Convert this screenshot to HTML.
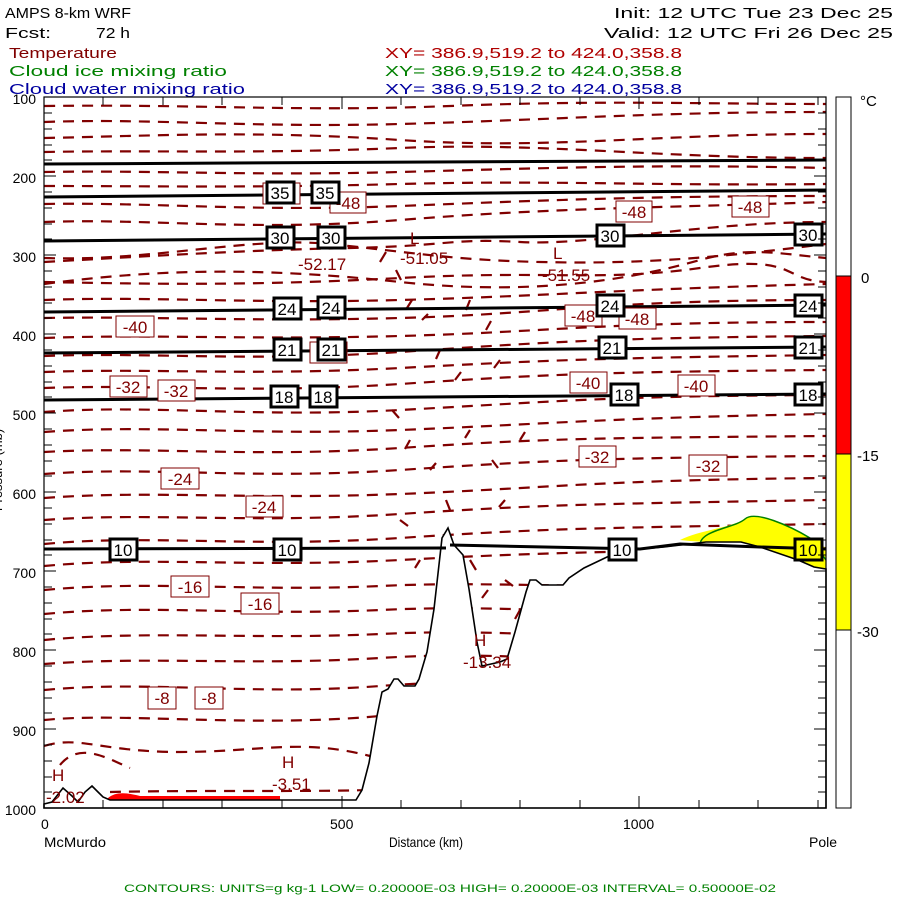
<!DOCTYPE html>
<html><head><meta charset="utf-8"><style>
html,body{margin:0;padding:0;background:#fff}
svg{display:block}
text{font-family:"Liberation Sans",sans-serif}
</style></head><body>
<svg width="900" height="900" viewBox="0 0 900 900" xmlns="http://www.w3.org/2000/svg">
<rect width="900" height="900" fill="#fff"/>
<!-- header -->
<g font-size="15">
<text x="5" y="18" textLength="126" lengthAdjust="spacingAndGlyphs">AMPS 8-km WRF</text>
<text x="5" y="38" textLength="46" lengthAdjust="spacingAndGlyphs">Fcst:</text>
<text x="96" y="38" textLength="34" lengthAdjust="spacingAndGlyphs">72 h</text>
<text x="614" y="18" textLength="279" lengthAdjust="spacingAndGlyphs">Init: 12 UTC Tue 23 Dec 25</text>
<text x="604" y="38" textLength="289" lengthAdjust="spacingAndGlyphs">Valid: 12 UTC Fri 26 Dec 25</text>
<text x="9" y="58" fill="#800000" textLength="108" lengthAdjust="spacingAndGlyphs">Temperature</text>
<text x="9" y="76" fill="#008000" textLength="218" lengthAdjust="spacingAndGlyphs">Cloud ice mixing ratio</text>
<text x="9" y="94" fill="#0000a0" textLength="236" lengthAdjust="spacingAndGlyphs">Cloud water mixing ratio</text>
<text x="385" y="58" fill="#b00000" textLength="297" lengthAdjust="spacingAndGlyphs">XY= 386.9,519.2 to 424.0,358.8</text>
<text x="385" y="76" fill="#008000" textLength="297" lengthAdjust="spacingAndGlyphs">XY= 386.9,519.2 to 424.0,358.8</text>
<text x="385" y="94" fill="#0000a0" textLength="297" lengthAdjust="spacingAndGlyphs">XY= 386.9,519.2 to 424.0,358.8</text>
</g>
<!-- dashed temperature contours -->
<g fill="none" stroke="#800000" stroke-width="2.2" stroke-dasharray="11,8">
<path d="M44,106 C200,104 300,112 450,106 S700,104 826,104"/>
<path d="M44,122 C150,118 250,128 400,124 S650,112 826,112"/>
<path d="M44,138 C150,136 250,130 400,140 S650,134 826,134"/>
<path d="M44,152 C150,150 260,154 400,148 S650,158 826,158"/>
<path d="M44,172 C150,170 250,176 400,172 S650,164 826,168"/>
<path d="M44,186 C150,186 250,188 400,184 S650,186 826,184"/>
<path d="M44,204 C150,202 250,212 400,206 S650,196 826,196"/>
<path d="M44,222 C150,218 250,232 400,220 S650,208 826,202"/>
<path d="M44,262 C150,256 250,250 350,248 S450,238 520,242 S700,222 826,222"/>
<path d="M44,258 C150,262 250,236 330,244 S450,260 540,262 S700,260 826,244"/>
<path d="M44,284 C150,270 250,266 400,282 S650,274 700,260 S780,254 826,258"/>
<path d="M44,282 C150,284 250,286 400,278 S600,282 700,268 S780,280 826,282"/>
<path d="M44,300 C150,296 250,304 400,300 S600,290 826,284"/>
<path d="M44,318 C150,316 250,322 400,318 S600,300 826,300"/>
<path d="M44,338 C150,334 250,340 400,336 S600,322 826,322"/>
<path d="M44,356 C150,352 250,362 400,352 S600,338 826,336"/>
<path d="M44,372 C150,368 250,376 400,368 S600,358 826,355"/>
<path d="M44,388 C150,384 250,394 400,384 S600,372 826,370"/>
<path d="M44,412 C150,404 250,418 400,410 S600,396 826,395"/>
<path d="M44,432 C150,424 250,436 400,430 S600,418 826,414"/>
<path d="M44,452 C150,446 250,458 400,448 S600,438 826,436"/>
<path d="M44,474 C150,466 250,480 400,470 S600,458 826,456"/>
<path d="M44,498 C150,490 250,500 400,494 S600,480 826,478"/>
<path d="M44,520 C150,512 250,524 400,514 S600,504 826,500"/>
<path d="M44,544 C150,534 250,548 400,538 S600,528 826,524"/>
<path d="M44,566 C150,556 250,568 400,560 S600,552 826,548"/>
<path d="M44,590 C150,580 250,592 380,586 S560,592 826,580"/>
<path d="M44,614 C150,604 250,616 380,610 S560,616 826,610"/>
<path d="M44,640 C150,630 250,640 380,634 S560,640 826,640"/>
<path d="M44,664 C150,656 250,666 380,658 S560,664 826,664"/>
<path d="M44,690 C150,680 250,696 380,686 S560,690 826,690"/>
<path d="M44,720 C120,712 250,728 380,716 S560,720 826,720"/>
<path d="M44,746 C80,735 100,752 180,752 S300,738 370,756"/>
<path d="M60,765 C80,740 110,760 130,768"/>
<path d="M110,792 C200,790 300,792 370,790"/>
</g>
<!-- short squiggles above mountains -->
<g fill="none" stroke="#800000" stroke-width="2.2">
<path d="M380,262 l6,-10 M396,270 l5,10 M412,300 l-5,8 M422,320 l6,-6 M440,350 l-4,9 M455,380 l6,-8 M470,300 l-4,10 M486,330 l5,-9 M500,360 l-6,8"/>
<path d="M392,410 l7,8 M410,440 l-5,9 M430,470 l6,-7 M446,500 l4,10 M470,430 l-5,8 M492,460 l6,8 M505,500 l-6,7 M520,440 l5,-8"/>
<path d="M400,520 l8,6 M420,560 l-5,8 M436,600 l6,-6 M470,560 l6,10 M488,590 l-6,8 M505,580 l8,6 M520,610 l-5,9"/>
</g>
<!-- yellow ice area -->
<path d="M680,540 C700,530 730,528 745,519 S790,526 810,538 L826,548 L826,569 L814,567 L798,560 L760,547 L741,542 L706,542 L690,541 Z" fill="#ffff00"/>
<path d="M700,545 C700,530 735,528 745,519 S790,526 810,538 L826,560" fill="none" stroke="#008000" stroke-width="1.5"/>
<!-- red cloud water -->
<path d="M108,798 C115,792 125,792 140,796 L280,796 L280,800 L108,800 Z" fill="#ff0000"/>
<!-- terrain -->
<path d="M44,804 L52,802 L63,788 L72,796 L78,802 L85,792 L92,786 L98,792 L103,797 L110,800 L356,800 L362,790 L369,763 L377,716 L382,692 L388,689 L394,679 L398,679 L404,686 L415,686 L419,679 L427,652 L434,609 L442,538 L448,528 L454,545 L463,555 L469,589 L477,642 L482,666 L500,662 L507,659 L515,632 L526,592 L530,580 L536,580 L542,585 L563,585 L569,578 L584,568 L607,557 L630,550 L664,547 L706,542 L741,542 L760,547 L798,560 L814,567 L826,569 L826,808 L44,808 Z" fill="#fff" stroke="#000" stroke-width="1.6"/>
<!-- height contours -->
<g fill="none" stroke="#000" stroke-width="3">
<path d="M44,164 L826,160"/>
<path d="M44,197 L826,190"/>
<path d="M44,241 L826,234"/>
<path d="M44,312 L826,305"/>
<path d="M44,353 L826,347"/>
<path d="M44,400 L826,394"/>
<path d="M44,549 L446,548 M450,545 L640,549 L680,544 L760,547 L826,549"/>
</g>
<!-- red label boxes -->
<g font-size="17" fill="#800000" text-anchor="middle">
<g stroke="#800000" stroke-width="1" fill="#fff">
<rect x="263" y="183" width="37" height="21"/><rect x="330" y="192" width="36" height="21"/>
<rect x="616" y="201" width="36" height="21"/><rect x="732" y="196" width="37" height="21"/>
<rect x="116" y="316" width="38" height="21"/><rect x="565" y="305" width="37" height="21"/><rect x="619" y="308" width="37" height="21"/>
<rect x="310" y="342" width="37" height="21"/>
<rect x="570" y="372" width="37" height="21"/><rect x="678" y="375" width="37" height="21"/>
<rect x="110" y="376" width="37" height="21"/><rect x="158" y="380" width="37" height="21"/>
<rect x="579" y="446" width="37" height="21"/><rect x="689" y="455" width="38" height="21"/>
<rect x="161" y="468" width="38" height="21"/><rect x="246" y="496" width="37" height="21"/>
<rect x="171" y="576" width="38" height="21"/><rect x="241" y="593" width="38" height="21"/>
<rect x="148" y="687" width="28" height="22"/><rect x="195" y="687" width="28" height="22"/>
</g>
<text x="281" y="200">-48</text><text x="348" y="209">-48</text>
<text x="634" y="218">-48</text><text x="750" y="213">-48</text>
<text x="135" y="333">-40</text><text x="583" y="322">-48</text><text x="637" y="325">-48</text>
<text x="328" y="359">-21</text>
<text x="588" y="389">-40</text><text x="696" y="392">-40</text>
<text x="128" y="393">-32</text><text x="176" y="397">-32</text>
<text x="597" y="463">-32</text><text x="708" y="472">-32</text>
<text x="180" y="485">-24</text><text x="264" y="513">-24</text>
<text x="190" y="593">-16</text><text x="260" y="610">-16</text>
<text x="162" y="704">-8</text><text x="209" y="704">-8</text>
</g>
<!-- extrema labels -->
<g font-size="17" fill="#800000">
<text x="298" y="270">-52.17</text>
<text x="410" y="244">L</text><text x="400" y="264">-51.05</text>
<text x="553" y="259">L</text><text x="542" y="281">-51.55</text>
<text x="474" y="646">H</text><text x="463" y="668">-13.34</text>
<text x="282" y="768">H</text><text x="272" y="790">-3.51</text>
<text x="52" y="781">H</text><text x="46" y="803">-2.02</text>
</g>
<!-- black number boxes -->
<g font-size="17" text-anchor="middle">
<g fill="#fff" stroke="#000" stroke-width="3">
<rect x="267" y="182" width="27" height="21"/><rect x="312" y="182" width="27" height="21"/>
<rect x="267" y="227" width="27" height="21"/><rect x="318" y="227" width="27" height="21"/><rect x="597" y="225" width="27" height="21"/><rect x="795" y="224" width="27" height="21"/>
<rect x="274" y="298" width="27" height="21"/><rect x="318" y="297" width="27" height="21"/><rect x="597" y="295" width="27" height="21"/><rect x="795" y="295" width="27" height="21"/>
<rect x="274" y="339" width="27" height="21"/><rect x="318" y="339" width="27" height="21"/><rect x="599" y="337" width="27" height="21"/><rect x="795" y="337" width="27" height="21"/>
<rect x="271" y="386" width="27" height="21"/><rect x="310" y="386" width="27" height="21"/><rect x="611" y="384" width="27" height="21"/><rect x="795" y="384" width="27" height="21"/>
<rect x="110" y="539" width="27" height="21"/><rect x="274" y="539" width="27" height="21"/><rect x="609" y="539" width="27" height="21"/>
</g>
<rect x="795" y="539" width="27" height="21" fill="#ffff00" stroke="#000" stroke-width="3"/>
<text x="280" y="199">35</text><text x="325" y="199">35</text>
<text x="280" y="244">30</text><text x="331" y="244">30</text><text x="610" y="242">30</text><text x="808" y="241">30</text>
<text x="287" y="315">24</text><text x="331" y="314">24</text><text x="610" y="312">24</text><text x="808" y="312">24</text>
<text x="287" y="356">21</text><text x="331" y="356">21</text><text x="612" y="354">21</text><text x="808" y="354">21</text>
<text x="284" y="403">18</text><text x="323" y="403">18</text><text x="624" y="401">18</text><text x="808" y="401">18</text>
<text x="123" y="556">10</text><text x="287" y="556">10</text><text x="622" y="556">10</text><text x="808" y="556">10</text>
</g>
<!-- axes frame and ticks -->
<rect x="44" y="97" width="782" height="711" fill="none" stroke="#000" stroke-width="1.2"/>
<g stroke="#000" stroke-width="1">
<path d="M44,113h8M44,129h8M44,145h8M44,160h8M44,192h8M44,208h8M44,224h8M44,239h8M44,271h8M44,287h8M44,303h8M44,318h8M44,350h8M44,366h8M44,382h8M44,397h8M44,429h8M44,445h8M44,461h8M44,476h8M44,508h8M44,524h8M44,540h8M44,555h8M44,587h8M44,603h8M44,619h8M44,634h8M44,666h8M44,682h8M44,698h8M44,713h8M44,745h8M44,761h8M44,777h8M44,792h8"/>
<path d="M44,176h12M44,255h12M44,334h12M44,413h12M44,492h12M44,571h12M44,650h12M44,729h12"/>
<path d="M826,113h-8M826,129h-8M826,145h-8M826,160h-8M826,192h-8M826,208h-8M826,224h-8M826,239h-8M826,271h-8M826,287h-8M826,303h-8M826,318h-8M826,350h-8M826,366h-8M826,382h-8M826,397h-8M826,429h-8M826,445h-8M826,461h-8M826,476h-8M826,508h-8M826,524h-8M826,540h-8M826,555h-8M826,587h-8M826,603h-8M826,619h-8M826,634h-8M826,666h-8M826,682h-8M826,698h-8M826,713h-8M826,745h-8M826,761h-8M826,777h-8M826,792h-8"/>
<path d="M826,176h-12M826,255h-12M826,334h-12M826,413h-12M826,492h-12M826,571h-12M826,650h-12M826,729h-12"/>
<path d="M103,97v8M163,97v8M222,97v8M282,97v8M342,97v12M401,97v8M461,97v8M520,97v8M580,97v8M639,97v12M699,97v8M758,97v8M818,97v8"/>
<path d="M103,808v-8M163,808v-8M222,808v-8M282,808v-8M342,808v-12M401,808v-8M461,808v-8M520,808v-8M580,808v-8M639,808v-12M699,808v-8M758,808v-8M818,808v-8"/>
</g>
<g font-size="14" text-anchor="end">
<text x="36" y="104">100</text><text x="36" y="183">200</text><text x="36" y="262">300</text><text x="36" y="341">400</text><text x="36" y="420">500</text><text x="36" y="499">600</text><text x="36" y="578">700</text><text x="36" y="657">800</text><text x="36" y="736">900</text><text x="36" y="815">1000</text>
</g>
<text x="2" y="470" font-size="13" transform="rotate(-90 2 470)" text-anchor="middle">Pressure (mb)</text>
<g font-size="14">
<text x="41" y="829">0</text><text x="330" y="829">500</text><text x="623" y="829">1000</text>
<text x="44" y="847" textLength="62" lengthAdjust="spacingAndGlyphs">McMurdo</text><text x="389" y="847" textLength="74" lengthAdjust="spacingAndGlyphs">Distance (km)</text><text x="809" y="847">Pole</text>
</g>
<!-- colorbar -->
<rect x="836" y="97" width="15" height="179" fill="#fff" stroke="#000" stroke-width="1"/>
<rect x="836" y="276" width="15" height="178" fill="#ff0000" stroke="#000" stroke-width="1"/>
<rect x="836" y="454" width="15" height="176" fill="#ffff00" stroke="#000" stroke-width="1"/>
<rect x="836" y="630" width="15" height="178" fill="#fff" stroke="#000" stroke-width="1"/>
<g font-size="15">
<text x="860" y="106">°C</text><text x="861" y="283">0</text><text x="857" y="461">-15</text><text x="857" y="637">-30</text>
</g>
<text x="124" y="892" font-size="11" fill="#008000" font-family="Liberation Serif, serif" textLength="652" lengthAdjust="spacingAndGlyphs">CONTOURS:  UNITS=g kg-1  LOW= 0.20000E-03  HIGH= 0.20000E-03  INTERVAL=  0.50000E-02</text>
</svg>
</body></html>
